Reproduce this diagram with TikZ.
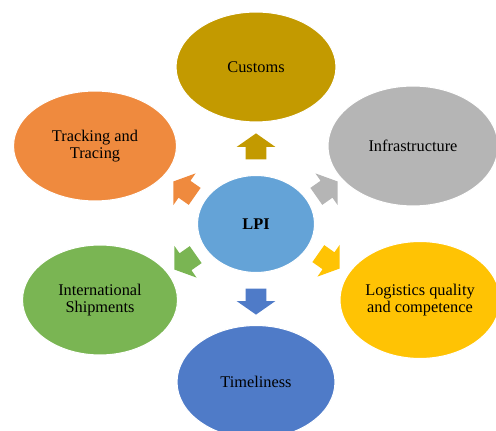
\documentclass[tikz,border=0pt]{standalone}
\usepackage{fontspec}
\setmainfont{Liberation Serif}
\usetikzlibrary{shapes.geometric,shapes.arrows}
\definecolor{custc}{HTML}{C39A00}
\definecolor{trackc}{HTML}{EF8A3E}
\definecolor{infrac}{HTML}{B5B5B5}
\definecolor{hubc}{HTML}{64A3D7}
\definecolor{shipc}{HTML}{7AB553}
\definecolor{qualc}{HTML}{FFC304}
\definecolor{timec}{HTML}{4F7BC8}

\begin{document}
\begin{tikzpicture}[
  x=0.02cm, y=-0.02cm,
  font=\fontsize{9.3}{9.9}\selectfont,
  bubble/.style={ellipse, draw=white, line width=0.6pt, inner sep=0pt, align=center,
    minimum width=3.2cm, minimum height=2.2cm},
  hub/.style={bubble, minimum width=2.34cm, minimum height=1.94cm, fill=hubc, font=\fontsize{9.3}{9.9}\selectfont\bfseries},
  blk/.style={single arrow, draw=none, inner xsep=0pt, inner ysep=0.2cm, minimum height=0.52cm,
    minimum width=0.76cm, single arrow head extend=0.18cm, single arrow tip angle=110}]
\useasboundingbox (0,0) rectangle (496,431);
\clip (0,0) rectangle (496,431);
% bubbles round the hub
\node[hub] (lpi) at (256,224) {LPI};
\node[bubble, fill=custc] (cust) at (256,67) {Customs};
\node[bubble, fill=trackc, minimum width=3.26cm] (track) at (95,146) {Tracking and\\Tracing};
\node[bubble, fill=infrac, minimum width=3.4cm, minimum height=2.4cm] (infra) at (413,146) {Infrastructure};
\node[bubble, fill=shipc, minimum width=3.1cm] (ship) at (100,300) {International\\Shipments};
\node[bubble, fill=qualc, minimum height=2.34cm] (qual) at (420,300) {Logistics quality\\and competence};
\node[bubble, fill=timec, minimum width=3.16cm, minimum height=2.26cm] (time) at (256,382) {Timeliness};
% block arrows
\node[blk, fill=custc, rotate=90] (a1) at (256,150) {};
\node[blk, fill=timec, rotate=270] (a2) at (256,298) {};
\node[blk, fill=trackc, rotate=145] (a3) at (187,191) {};
\node[blk, fill=infrac, rotate=35] (a4) at (324,191) {};
\node[blk, fill=shipc, rotate=215] (a5) at (188,260) {};
\node[blk, fill=qualc, rotate=325] (a6) at (326,259) {};
\end{tikzpicture}
\end{document}
